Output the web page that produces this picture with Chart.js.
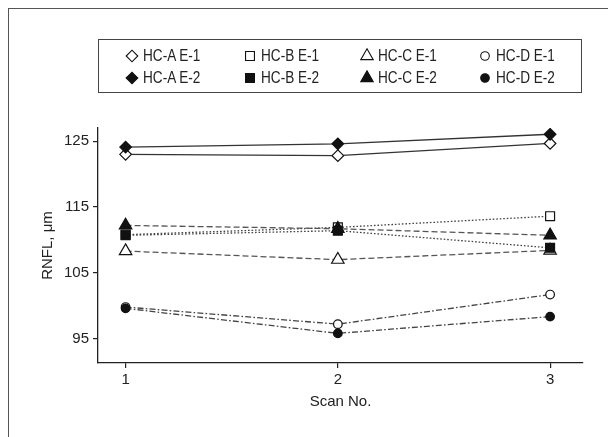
<!DOCTYPE html>
<html>
<head>
<meta charset="utf-8">
<script src="https://cdn.jsdelivr.net/npm/chart.js@4.4.1/dist/chart.umd.min.js"></script>
<style>
  html, body { margin: 0; padding: 0; background: #fff; }
  #wrap { position: relative; width: 608px; height: 437px; overflow: hidden; background: #fff; }
  #c { position: absolute; left: 0; top: 0; }
  #frame { position: absolute; left: 8px; top: 7.5px; width: 620px; height: 440px;
           border-top: 1.4px solid #555; border-left: 1.4px solid #555; box-sizing: border-box; }
  #legend { position: absolute; left: 98px; top: 39px; width: 484px; height: 54px;
            border: 1.2px solid #444; box-sizing: border-box; }
  .item { position: absolute; height: 20px; display: flex; align-items: center;
          font-family: 'Liberation Sans', Arial, sans-serif;
          font-size: 16px; color: #222; white-space: nowrap; }
  .item canvas { margin-right: 3px; }
  .item span { display: inline-block; transform: scaleX(0.85); transform-origin: 0 50%; }
</style>
</head>
<body>
<div id="wrap">
  <canvas id="c" width="608" height="437"></canvas>
  <div id="frame"></div>
  <div id="legend"></div>
</div>
<script>
// ---- data ----
const scans = [1, 2, 3];
const seriesNames = ['HC-A E-1', 'HC-B E-1', 'HC-C E-1', 'HC-D E-1',
                     'HC-A E-2', 'HC-B E-2', 'HC-C E-2', 'HC-D E-2'];
const hcA_E1 = [123.0, 122.8, 124.65];
const hcB_E1 = [110.8, 111.9, 113.6];
const hcC_E1 = [108.3, 107.0, 108.4];
const hcD_E1 = [99.8, 97.2, 101.7];
const hcA_E2 = [124.1, 124.6, 126.05];
const hcB_E2 = [110.7, 111.4, 108.8];
const hcC_E2 = [112.2, 111.7, 110.7];
const hcD_E2 = [99.6, 95.8, 98.35];
const yTicks = [95, 105, 115, 125];
const xTicks = [1, 2, 3];

const seriesValues = [hcA_E1, hcB_E1, hcC_E1, hcD_E1, hcA_E2, hcB_E2, hcC_E2, hcD_E2];

// ---- styles ----
const FONT = "'Liberation Sans', Arial, sans-serif";
const groupStyle = {
  A: { pointStyle: 'rectRot', radius: 5.8, dash: [], line: '#333' },
  B: { pointStyle: 'rect', radius: 6.3, dash: [1.6, 1.9], line: '#444' },
  C: { pointStyle: 'triangle', radius: 7.2, dash: [6, 3], line: '#555' },
  D: { pointStyle: 'circle', radius: 4.3, dash: [6, 2.2, 1.6, 2.2], line: '#444' }
};

const datasets = seriesNames.map((name, i) => {
  const g = groupStyle[name.charAt(3)];
  const filled = name.endsWith('2');
  let order = filled ? 1 : 2;
  if (name === 'HC-C E-2') order = 0;
  return {
    label: name,
    data: scans.map((s, k) => ({ x: s, y: seriesValues[i][k] })),
    borderColor: g.line,
    borderWidth: 1.3,
    borderDash: g.dash,
    pointStyle: g.pointStyle,
    pointRadius: g.radius,
    pointHoverRadius: g.radius,
    pointBorderColor: '#111',
    pointBackgroundColor: filled ? '#111' : '#fff',
    pointBorderWidth: 1.2,
    fill: false,
    tension: 0,
    order: order
  };
});

new Chart(document.getElementById('c'), {
  type: 'line',
  data: { datasets },
  options: {
    responsive: false,
    animation: false,
    devicePixelRatio: 1,
    layout: { padding: { left: 0, top: 128, right: 25, bottom: 0 } },
    plugins: { legend: { display: false }, tooltip: { enabled: false } },
    scales: {
      x: {
        type: 'linear',
        min: 0.87, max: 3.155,
        afterBuildTicks: (s) => { s.ticks = xTicks.map(v => ({ value: v })); },
        afterFit: (s) => { s.height = 74; },
        grid: { display: true, drawOnChartArea: false, drawTicks: true, tickLength: 5, color: '#222', lineWidth: 1.2 },
        border: { display: true, color: '#222', width: 1.3 },
        ticks: { color: '#222', padding: 3, font: { family: FONT, size: 15 }, maxRotation: 0 },
        title: { display: true, text: 'Scan No.', color: '#222', font: { family: FONT, size: 15 }, padding: { top: 0, bottom: 26 } }
      },
      y: {
        type: 'linear',
        min: 91.3, max: 127,
        afterBuildTicks: (s) => { s.ticks = yTicks.map(v => ({ value: v })); },
        afterFit: (s) => { s.width = 98; },
        grid: { display: true, drawOnChartArea: false, drawTicks: true, tickLength: 5, color: '#222', lineWidth: 1.2 },
        border: { display: true, color: '#222', width: 1.3 },
        ticks: { color: '#222', padding: 4, font: { family: FONT, size: 15 } },
        title: { display: true, text: 'RNFL, μm', color: '#222', font: { family: FONT, size: 15 }, padding: { top: 39, bottom: 0 } }
      }
    }
  }
});

// ---- HTML legend (4 columns x 2 rows) built from the series ----
const legend = document.getElementById('legend');
seriesNames.forEach((name, i) => {
  const col = i % 4, row = Math.floor(i / 4);
  const ds = datasets[i];
  const item = document.createElement('div');
  item.className = 'item';
  item.style.left = (25 + col * 117.6) + 'px';
  item.style.top = (6 + row * 21.7) + 'px';
  const cv = document.createElement('canvas');
  cv.width = 16; cv.height = 16;
  const ctx = cv.getContext('2d');
  ctx.fillStyle = ds.pointBackgroundColor;
  ctx.strokeStyle = ds.pointBorderColor;
  ctx.lineWidth = 1.1;
  Chart.helpers.drawPoint(ctx, { pointStyle: ds.pointStyle, radius: ds.pointRadius, rotation: 0, borderWidth: 1.1 }, 8, 8);
  item.appendChild(cv);
  const span = document.createElement('span');
  span.textContent = name;
  item.appendChild(span);
  legend.appendChild(item);
});
</script>
</body>
</html>
